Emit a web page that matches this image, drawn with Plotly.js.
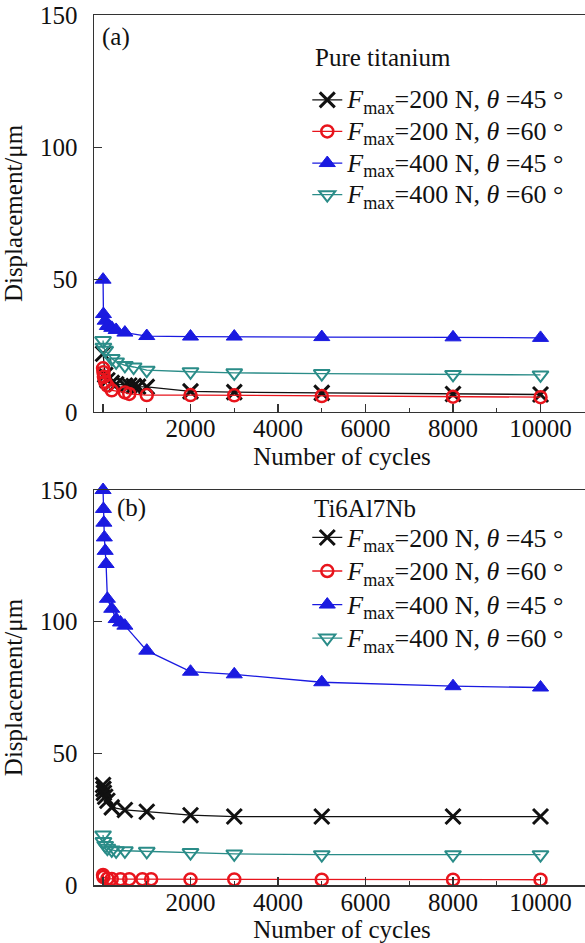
<!DOCTYPE html>
<html><head><meta charset="utf-8">
<script src="https://cdn.plot.ly/plotly-3.0.1.min.js"></script>
<style>html,body{margin:0;padding:0;overflow:hidden;background:#fff}</style>
</head><body><div id="chart" style="width:590px;height:943px"></div>
<script>
// ---- Data ----
const seriesLabels = [
  '<i>F</i><sub>max</sub>=200 N, <i>θ</i> =45 °',
  '<i>F</i><sub>max</sub>=200 N, <i>θ</i> =60 °',
  '<i>F</i><sub>max</sub>=400 N, <i>θ</i> =45 °',
  '<i>F</i><sub>max</sub>=400 N, <i>θ</i> =60 °'
];
// Panel (a) Pure titanium
const a_200_45_x = [1, 50, 100, 200, 300, 500, 600, 700, 800, 1000, 2000, 3000, 5000, 8000, 10000];
const a_200_45_y = [22, 14, 12, 11, 10.5, 10, 10, 9.8, 9.6, 9.5, 7.8, 7.5, 7.2, 6.8, 6.6];
const a_200_60_x = [1, 10, 20, 50, 100, 200, 500, 600, 1000, 2000, 3000, 5000, 8000, 10000];
const a_200_60_y = [16.5, 15, 13.3, 11.4, 10, 8.2, 7.4, 6.8, 6.4, 6.4, 6.3, 6.0, 5.8, 5.6];
const a_400_45_x = [1, 10, 50, 100, 200, 300, 500, 1000, 2000, 3000, 5000, 8000, 10000];
const a_400_45_y = [50, 37, 34.5, 32.5, 31.8, 31, 30, 28.7, 28.5, 28.5, 28.3, 28.2, 28.0];
const a_400_60_x = [1, 10, 50, 200, 300, 500, 700, 1000, 2000, 3000, 5000, 8000, 10000];
const a_400_60_y = [27, 24.5, 23.3, 20.2, 18.9, 17.6, 17, 15.8, 15.2, 14.8, 14.5, 14.2, 14.0];
// Panel (b) Ti6Al7Nb
const b_200_45_x = [1, 10, 20, 50, 100, 200, 500, 1000, 2000, 3000, 5000, 8000, 10000];
const b_200_45_y = [38, 36.5, 35, 33.5, 32, 29.5, 28.5, 27.8, 26.5, 26, 26, 26, 26];
const b_200_60_x = [1, 10, 100, 200, 400, 600, 900, 1100, 2000, 3000, 5000, 8000, 10000];
const b_200_60_y = [3.8, 3.0, 2.4, 2.3, 2.2, 2.2, 2.2, 2.2, 2.1, 2.1, 2.0, 2.0, 2.0];
const b_400_45_x = [1, 10, 20, 30, 50, 70, 100, 200, 300, 400, 500, 1000, 2000, 3000, 5000, 8000, 10000];
const b_400_45_y = [150, 142.8, 137.6, 132, 126.9, 121.9, 108.7, 104.9, 101, 99.7, 98.5, 89, 81, 80, 77, 75.5, 75];
const b_400_60_x = [1, 10, 50, 100, 200, 300, 500, 1000, 2000, 3000, 5000, 8000, 10000];
const b_400_60_y = [19, 16.5, 15, 14, 13.3, 13, 13, 12.8, 12.3, 11.8, 11.5, 11.5, 11.5];

const xTickVals = [0, 2000, 4000, 6000, 8000, 10000];
const xTickText = ['', '2000', '4000', '6000', '8000', '10000'];
const xMinorVals = [1000, 3000, 5000, 7000, 9000];
const yTickVals = [0, 50, 100, 150];
const panelTitleA = 'Pure titanium';
const panelTitleB = 'Ti6Al7Nb';

// ---- Styles ----
const FONT = '"Liberation Serif", "Times New Roman", serif';
const FS = 25;
const styles = [
  {color: '#111111', symbol: 'x-thin-open', size: 15, lw: 3},
  {color: '#e8141c', symbol: 'circle-open', size: 12, lw: 2.5},
  {color: '#1a1ae0', symbol: 'triangle-up', size: 14, lw: 1},
  {color: '#2a8c88', symbol: 'triangle-down-open', size: 14, lw: 2}
];

function mk(x, y, i, xa, ya, leg) {
  const s = styles[i];
  return {
    x: x, y: y, type: 'scatter', mode: 'lines+markers',
    name: '<span style="font-size:26px">' + seriesLabels[i] + '</span>',
    xaxis: xa, yaxis: ya, legend: leg,
    line: {color: s.color, width: 1.3},
    marker: {symbol: s.symbol, size: s.size, color: s.color,
             line: {color: s.color, width: s.lw}},
    cliponaxis: false
  };
}

const traces = [
  mk(a_200_45_x, a_200_45_y, 0, 'x', 'y', 'legend'),
  mk(a_200_60_x, a_200_60_y, 1, 'x', 'y', 'legend'),
  mk(a_400_45_x, a_400_45_y, 2, 'x', 'y', 'legend'),
  mk(a_400_60_x, a_400_60_y, 3, 'x', 'y', 'legend'),
  mk(b_200_45_x, b_200_45_y, 0, 'x2', 'y2', 'legend2'),
  mk(b_200_60_x, b_200_60_y, 1, 'x2', 'y2', 'legend2'),
  mk(b_400_45_x, b_400_45_y, 2, 'x2', 'y2', 'legend2'),
  mk(b_400_60_x, b_400_60_y, 3, 'x2', 'y2', 'legend2')
];

function xAxis(anchor) {
  return {
    anchor: anchor, domain: [0, 1], range: [-206, 11131],
    tickmode: 'array', tickvals: xTickVals, ticktext: xTickText,
    ticks: 'inside', ticklen: 8, tickwidth: 1.2, tickcolor: '#333',
    minor: {tickmode: 'array', tickvals: xMinorVals, ticks: 'inside', ticklen: 4, tickcolor: '#333'},
    showline: true, linecolor: '#333', linewidth: 1.5, mirror: true,
    showgrid: false, zeroline: false, ticklabelstandoff: -6,
    tickfont: {family: FONT, size: FS, color: '#111'},
    title: {text: 'Number of cycles', font: {family: FONT, size: FS, color: '#111'}, standoff: 6}
  };
}
function yAxis(anchor, domain) {
  return {
    anchor: anchor, domain: domain, range: [0, 150],
    tickmode: 'array', tickvals: yTickVals,
    ticks: 'inside', ticklen: 8, tickwidth: 1.2, tickcolor: '#333',
    showline: true, linecolor: '#333', linewidth: 1.5, mirror: true,
    showgrid: false, zeroline: false, ticklabelstandoff: 10,
    tickfont: {family: FONT, size: FS, color: '#111'},
    title: {text: 'Displacement/μm', font: {family: FONT, size: FS, color: '#111'}, standoff: 10}
  };
}

const legendCommon = {
  xanchor: 'left', yanchor: 'top', bgcolor: 'rgba(0,0,0,0)', borderwidth: 0,
  tracegroupgap: 0, itemwidth: 30
};

function ann(text, x, y) {
  return {text: text, xref: 'paper', yref: 'paper', x: x, y: y, xanchor: 'left', yanchor: 'middle',
          showarrow: false, font: {family: FONT, size: FS, color: '#111'}};
}

const layout = {
  width: 590, height: 943,
  margin: {l: 94, r: 0, t: 15, b: 58},
  paper_bgcolor: '#fff', plot_bgcolor: '#fff',
  showlegend: true,
  xaxis: xAxis('y'),
  yaxis: yAxis('x', [0.5437, 1]),
  xaxis2: xAxis('y2'),
  yaxis2: yAxis('x2', [0, 0.454]),
  legend: Object.assign({}, legendCommon, {x: 0.43, y: 0.9264,
    font: {family: FONT, size: 22, color: '#111'}}),
  legend2: Object.assign({}, legendCommon, {x: 0.43, y: 0.4245,
    font: {family: FONT, size: 23.5, color: '#111'}}),
  annotations: [
    ann('(a)', 0.012, 0.975),
    ann('(b)', 0.042, 0.433),
    ann(panelTitleA, 0.4415, 0.9506),
    ann(panelTitleB, 0.4395, 0.4325)
  ]
};

Plotly.newPlot('chart', traces, layout, {displayModeBar: false, staticPlot: true});
</script></body></html>
